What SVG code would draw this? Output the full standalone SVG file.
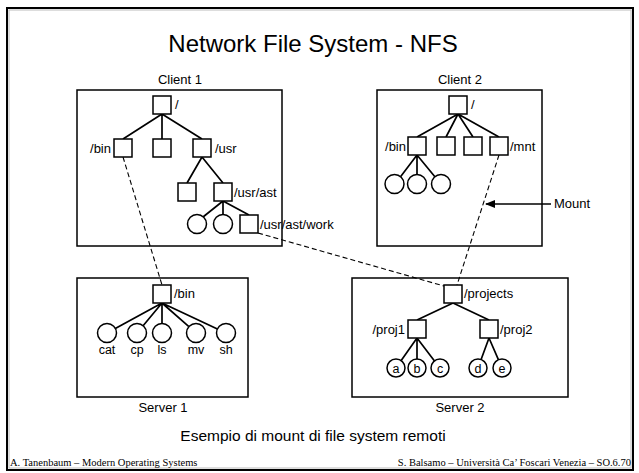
<svg xmlns="http://www.w3.org/2000/svg" width="639" height="473" viewBox="0 0 639 473">
<style>
.box{fill:none;stroke:#000;stroke-width:1.5}
.sq{fill:#fff;stroke:#000;stroke-width:1.5}
.ci{fill:#fff;stroke:#000;stroke-width:1.5}
.ln{stroke:#000;stroke-width:1.7;fill:none}
.dash{stroke:#000;stroke-width:1.1;fill:none;stroke-dasharray:5,3}
text{font-family:"Liberation Sans",Arial,sans-serif;fill:#000}
.lb{font-size:13px}
.sm{font-size:12.5px;text-anchor:middle}
.cap{font-size:13px;text-anchor:middle}
.ft{font-family:"Liberation Serif","Times New Roman",serif;font-size:10.5px}
</style>
<defs>
<marker id="ah" markerWidth="10" markerHeight="8" refX="9" refY="4" orient="auto" markerUnits="userSpaceOnUse">
<path d="M0,0 L10,4 L0,8 Z" fill="#000"/>
</marker>
</defs>
<rect x="0" y="0" width="639" height="473" fill="#fff"/>
<rect x="7" y="8" width="626" height="462" fill="none" stroke="#000" stroke-width="2"/>
<rect x="9" y="10" width="622" height="458" fill="none" stroke="#bbb" stroke-width="1"/>
<text x="313" y="52" font-size="24" text-anchor="middle">Network File System - NFS</text>

<g id="connectors">
<path class="ln" d="M162,114 L123,139 M162,114 L162,139 M162,114 L202,139"/>
<path class="ln" d="M202,157 L187,183 M202,157 L223,183"/>
<path class="ln" d="M223,201 L203,217 M223,201 L223,214.5 M223,201 L249,215"/>
<path class="ln" d="M458,114 L417,137 M458,114 L446,137 M458,114 L473,137 M458,114 L499,137"/>
<path class="ln" d="M417,155 L400.7,176.4 M417,155 L417,174.5 M417,155 L434.9,176.7"/>
<path class="ln" d="M162,303 L115.3,328.4 M162,303 L143.1,325.7 M162,303 L162,323.5 M162,303 L188.9,326.7 M162,303 L217.4,329"/>
<path class="ln" d="M453,303 L417,320 M453,303 L489,320"/>
<path class="ln" d="M417,338 L401.2,360.6 M417,338 L417,359 M417,338 L434.5,360.9 M489,338 L481.1,359.5 M489,338 L498.4,359.7"/>
<path class="dash" d="M123,157 L162,285"/>
<path class="dash" d="M258,233 L444,286"/>
<path class="dash" d="M499,155 L457,285"/>
<path class="ln" d="M551,204 L486,204" stroke-width="1.3" marker-end="url(#ah)"/>
</g>

<g id="client1">
<rect class="box" x="77" y="90" width="205" height="156"/>
<text class="cap" x="180" y="84">Client 1</text>
<rect class="sq" x="153" y="96" width="18" height="18"/>
<text class="lb" x="175" y="109">/</text>
<rect class="sq" x="114" y="139" width="18" height="18"/>
<text class="lb" x="111" y="153" text-anchor="end">/bin</text>
<rect class="sq" x="153" y="139" width="18" height="18"/>
<rect class="sq" x="193" y="139" width="18" height="18"/>
<text class="lb" x="215" y="153">/usr</text>
<rect class="sq" x="178" y="183" width="18" height="18"/>
<rect class="sq" x="214" y="183" width="18" height="18"/>
<text class="lb" x="234" y="197">/usr/ast</text>
<circle class="ci" cx="197" cy="224" r="9.5"/>
<circle class="ci" cx="223" cy="224" r="9.5"/>
<rect class="sq" x="240" y="215" width="18" height="18"/>
<text class="lb" x="260" y="229">/usr/ast/work</text>
</g>

<g id="client2">
<rect class="box" x="377" y="90" width="165" height="156"/>
<text class="cap" x="460" y="84">Client 2</text>
<rect class="sq" x="449" y="96" width="18" height="18"/>
<text class="lb" x="471" y="109">/</text>
<rect class="sq" x="408" y="137" width="18" height="18"/>
<text class="lb" x="406" y="151" text-anchor="end">/bin</text>
<rect class="sq" x="437" y="137" width="18" height="18"/>
<rect class="sq" x="464" y="137" width="18" height="18"/>
<rect class="sq" x="490" y="137" width="18" height="18"/>
<text class="lb" x="510" y="151">/mnt</text>
<circle class="ci" cx="394.5" cy="184" r="9.5"/>
<circle class="ci" cx="417" cy="184" r="9.5"/>
<circle class="ci" cx="441" cy="184" r="9.5"/>
</g>

<g id="mount-label">
<text class="lb" x="554" y="208">Mount</text>
</g>

<g id="server1">
<rect class="box" x="77" y="278" width="171" height="119"/>
<text class="cap" x="163" y="412">Server 1</text>
<rect class="sq" x="153" y="285" width="18" height="18"/>
<text class="lb" x="174" y="298">/bin</text>
<circle class="ci" cx="107" cy="333" r="9.5"/>
<circle class="ci" cx="137" cy="333" r="9.5"/>
<circle class="ci" cx="162" cy="333" r="9.5"/>
<circle class="ci" cx="196" cy="333" r="9.5"/>
<circle class="ci" cx="226" cy="333" r="9.5"/>
<text class="sm" x="107" y="354">cat</text>
<text class="sm" x="137" y="354">cp</text>
<text class="sm" x="162" y="354">ls</text>
<text class="sm" x="196" y="354">mv</text>
<text class="sm" x="226" y="354">sh</text>
</g>

<g id="server2">
<rect class="box" x="352" y="278" width="216" height="119"/>
<text class="cap" x="460" y="412">Server 2</text>
<rect class="sq" x="444" y="285" width="18" height="18"/>
<text class="lb" x="464" y="298">/projects</text>
<rect class="sq" x="408" y="320" width="18" height="18"/>
<text class="lb" x="405" y="334" text-anchor="end">/proj1</text>
<rect class="sq" x="480" y="320" width="18" height="18"/>
<text class="lb" x="500" y="334">/proj2</text>
<circle class="ci" cx="396" cy="368" r="9"/>
<circle class="ci" cx="417" cy="368" r="9"/>
<circle class="ci" cx="440" cy="368" r="9"/>
<circle class="ci" cx="478" cy="368" r="9"/>
<circle class="ci" cx="502" cy="368" r="9"/>
<text class="sm" x="396" y="372.5">a</text>
<text class="sm" x="417" y="372.5">b</text>
<text class="sm" x="440" y="372.5">c</text>
<text class="sm" x="478" y="372.5">d</text>
<text class="sm" x="502" y="372.5">e</text>
</g>

<text x="313" y="441" font-size="15.5" text-anchor="middle">Esempio di mount di file system remoti</text>
<text class="ft" x="10" y="466">A. Tanenbaum – Modern Operating Systems</text>
<text class="ft" x="631" y="466" text-anchor="end">S. Balsamo – Università Ca’ Foscari Venezia – SO.6.70</text>
</svg>
